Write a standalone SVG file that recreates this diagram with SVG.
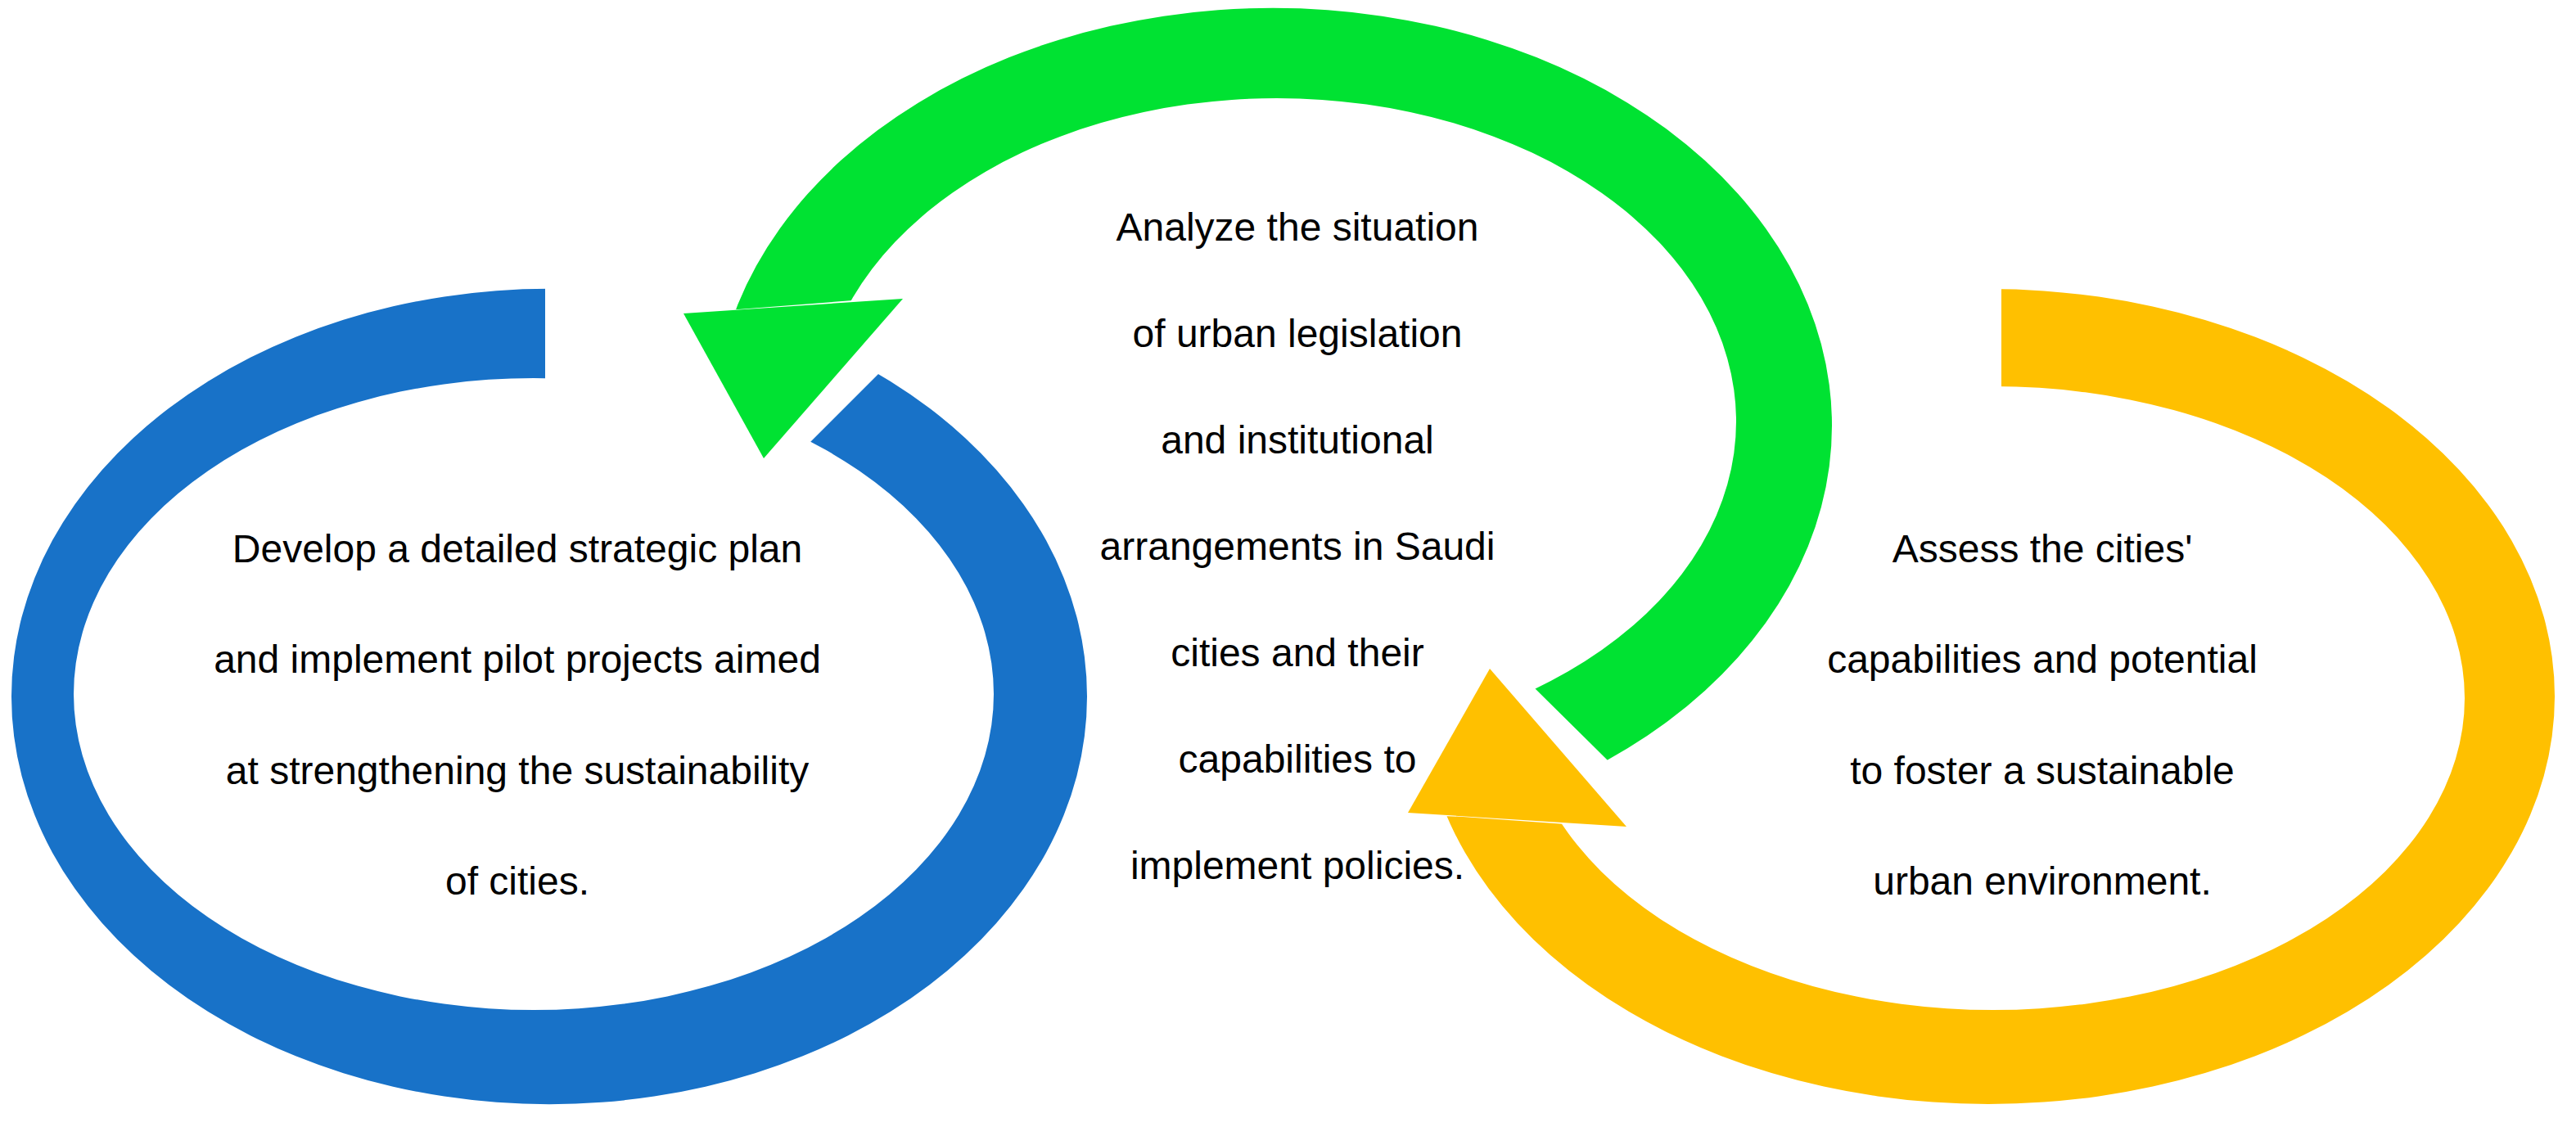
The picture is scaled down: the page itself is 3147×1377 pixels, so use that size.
<svg xmlns="http://www.w3.org/2000/svg" width="3147" height="1377" viewBox="0 0 3147 1377">
<style>
text{font-family:"Liberation Sans",Arial,sans-serif;font-size:48px;fill:#000;text-anchor:middle}
</style>
<defs>
<mask id="mb" maskUnits="userSpaceOnUse" x="0" y="0" width="3147" height="1377"><rect width="3147" height="1377" fill="#fff"/><polygon points="666,864 666,250 1280,250" fill="#000"/></mask>
<mask id="mg" maskUnits="userSpaceOnUse" x="0" y="0" width="3147" height="1377"><rect width="3147" height="1377" fill="#fff"/><polygon points="600,386 902,378 1042,367 1557,517 1873,839 1960,925 2150,1115 2150,1377 600,1377" fill="#000"/></mask>
<mask id="my" maskUnits="userSpaceOnUse" x="0" y="0" width="3147" height="1377"><rect width="3147" height="1377" fill="#fff"/><polygon points="2445,300 2445,851 1927,1008 1787,998 1600,990 1600,300" fill="#000"/></mask>
</defs>
<g id="connectors">
<g id="blue-arrow">
<path fill="#1872C8" fill-rule="evenodd" mask="url(#mb)" d="M14,851 a657,498 0 1,0 1314,0 a657,498 0 1,0 -1314,0 Z M90,848 a562,386 0 1,0 1124,0 a562,386 0 1,0 -1124,0 Z"/>
</g>
<g id="green-arrow">
<path fill="#00E232" fill-rule="evenodd" mask="url(#mg)" d="M872,520 a683,510 0 1,0 1366,0 a683,510 0 1,0 -1366,0 Z M999,515 a561,395 0 1,0 1122,0 a561,395 0 1,0 -1122,0 Z"/>
<polygon fill="#00E232" points="835,383 1103,365 933,560"/>
</g>
<g id="yellow-arrow">
<path fill="#FFC000" fill-rule="evenodd" mask="url(#my)" d="M1737,851 a692,498 0 1,0 1384,0 a692,498 0 1,0 -1384,0 Z M1859,853 a576,381 0 1,0 1152,0 a576,381 0 1,0 -1152,0 Z"/>
<polygon fill="#FFC000" points="1820,817 1720,993 1987,1010"/>
</g>
</g>
<g id="node-blue">
<text x="632" y="687">Develop a detailed strategic plan</text>
<text x="632" y="822">and implement pilot projects aimed</text>
<text x="632" y="958">at strengthening the sustainability</text>
<text x="632" y="1093">of cities.</text>
</g>
<g id="node-green">
<text x="1585" y="294">Analyze the situation</text>
<text x="1585" y="424">of urban legislation</text>
<text x="1585" y="554">and institutional</text>
<text x="1585" y="684">arrangements in Saudi</text>
<text x="1585" y="814">cities and their</text>
<text x="1585" y="944">capabilities to</text>
<text x="1585" y="1074">implement policies.</text>
</g>
<g id="node-yellow">
<text x="2495" y="687">Assess the cities'</text>
<text x="2495" y="822">capabilities and potential</text>
<text x="2495" y="958">to foster a sustainable</text>
<text x="2495" y="1093">urban environment.</text>
</g>
</svg>
